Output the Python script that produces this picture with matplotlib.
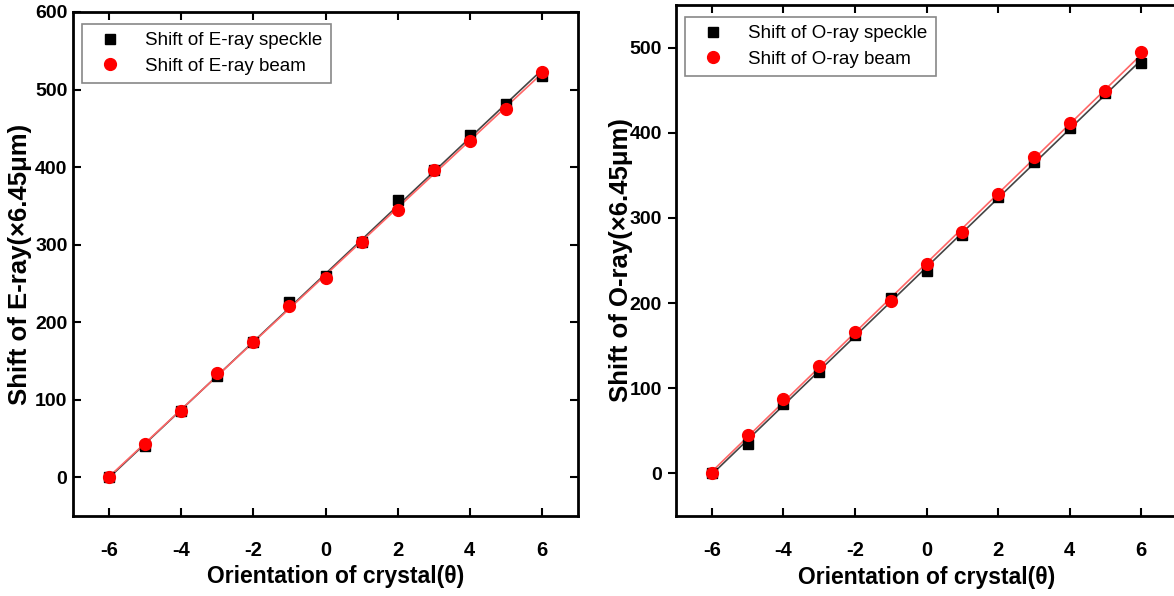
import matplotlib.pyplot as plt
import numpy as np

plt.rcParams["font.family"] = ["Liberation Sans", "DejaVu Sans"]
plt.rcParams["axes.unicode_minus"] = False

theta = np.arange(-6, 7)

e_speckle = [0, 40, 85, 130, 175, 226, 259, 303, 357, 396, 441, 481, 518]
e_beam = [0, 43, 86, 134, 175, 221, 257, 303, 345, 396, 433, 475, 522]

o_speckle = [0, 35, 82, 119, 163, 206, 238, 280, 324, 366, 405, 447, 482]
o_beam = [0, 45, 87, 126, 166, 202, 246, 284, 328, 371, 411, 449, 495]

fig = plt.figure(figsize=(11.74, 5.96), dpi=100)
ax1 = fig.add_axes([73 / 1174, 1 - 516 / 596, 505 / 1174, 504 / 596])
ax2 = fig.add_axes([676 / 1174, 1 - 516 / 596, 501 / 1174, 511 / 596])


def draw(ax, speckle, beam, ray, ylim, yticks, left_dir, xlab_x, ylab_x):
    # straight fit lines through each series
    for vals, lcol in [(speckle, "#444444"), (beam, "#ff6666")]:
        k, b = np.polyfit(theta, vals, 1)
        ax.plot(theta, k * theta + b, color=lcol, lw=1.2, zorder=2)
    ax.plot(theta, speckle, "s", color="black", ms=7.5, zorder=3,
            label=f"Shift of {ray}-ray speckle")
    ax.plot(theta, beam, "o", color="red", ms=8.5, zorder=4,
            label=f"Shift of {ray}-ray beam")

    ax.set_xlim(-7, 7)
    ax.set_ylim(*ylim)
    ax.set_xticks(range(-6, 7, 2))
    ax.set_yticks(yticks)
    ax.tick_params(axis="x", direction="in", top=True, length=6, width=1.5,
                   labelsize=14.5, pad=18)
    ax.tick_params(axis="y", direction=left_dir, right=True, length=6,
                   width=1.5, labelsize=14, pad=4)
    for lbl in ax.get_xticklabels() + ax.get_yticklabels():
        lbl.set_fontweight("bold")
    for s in ax.spines.values():
        s.set_linewidth(2)
    ax.set_xlabel("Orientation of crystal(θ)", fontsize=16.5,
                  fontweight="bold")
    ax.set_ylabel(f"Shift of {ray}-ray(×6.45μm)", fontsize=18.5,
                  fontweight="bold")
    ax.xaxis.set_label_coords(xlab_x, -0.097)
    ax.yaxis.set_label_coords(ylab_x, 0.5)
    leg = ax.legend(loc="upper left", fontsize=13.5, fancybox=False,
                    edgecolor="#888888", framealpha=1, handletextpad=0.9,
                    borderpad=0.45, labelspacing=0.45, numpoints=1,
                    bbox_to_anchor=(0.0, 0.995))
    leg.get_frame().set_linewidth(1.2)


draw(ax1, e_speckle, e_beam, "E", (-50, 600), range(0, 601, 100), "in",
     0.52, -0.081)
draw(ax2, o_speckle, o_beam, "O", (-50, 550), range(0, 501, 100), "out",
     0.5, -0.086)
# right plot: left ticks point outward, right ticks inward
for t in ax2.yaxis.get_major_ticks():
    t.tick2line.set_marker(3)

fig.savefig("out.png", dpi=100)
